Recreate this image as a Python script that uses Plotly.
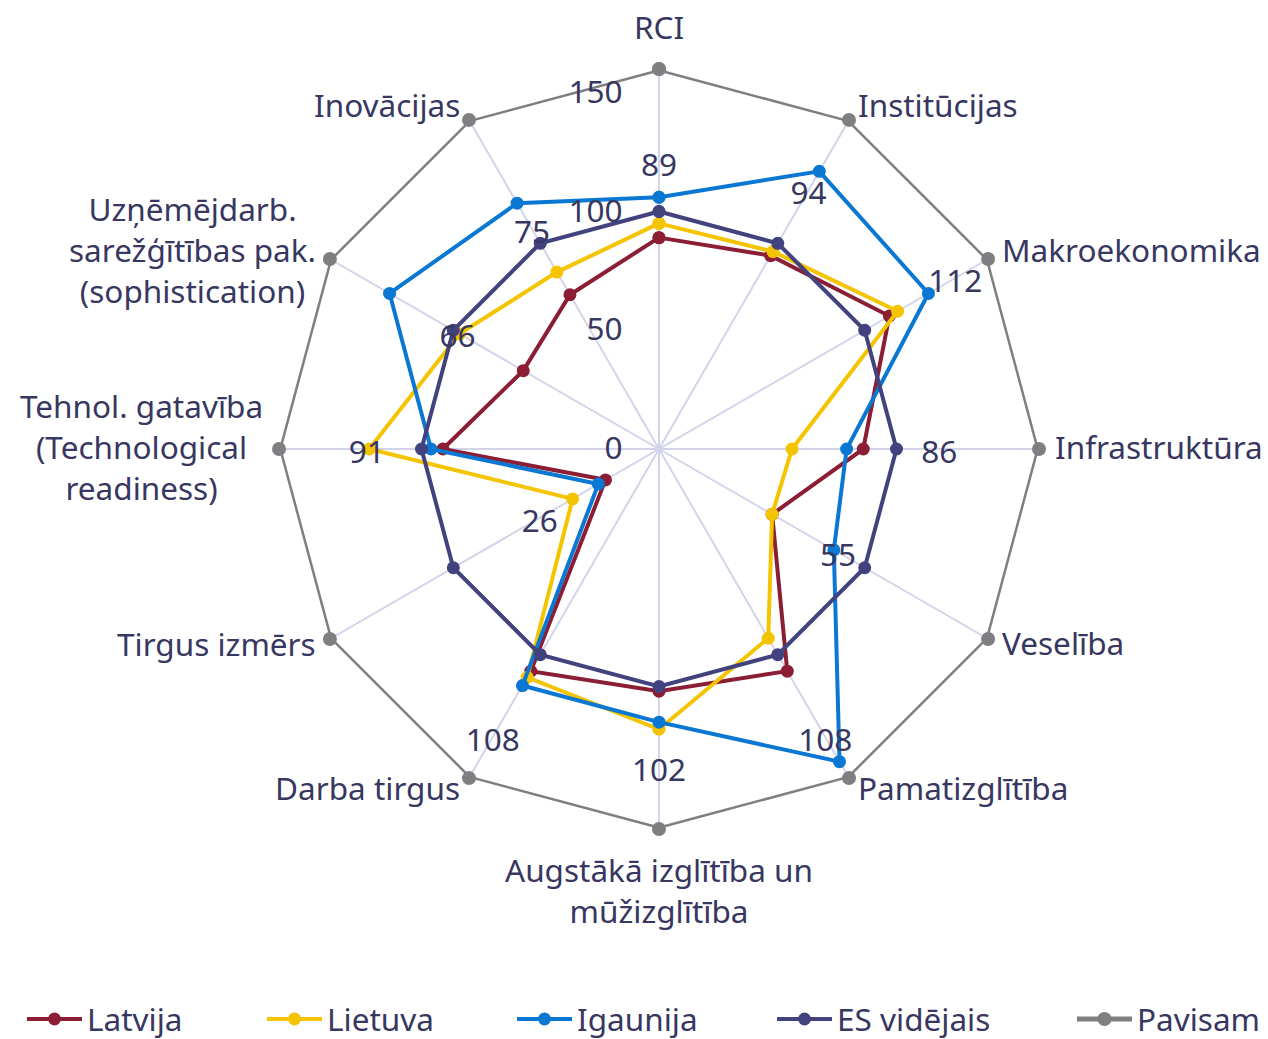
import math
import plotly.graph_objects as go

categories = ["RCI", "Institūcijas", "Makroekonomika", "Infrastruktūra", "Veselība",
              "Pamatizglītība", "Augstākā izglītība un<br>mūžizglītība", "Darba tirgus",
              "Tirgus izmērs", "Tehnol. gatavība<br>(Technological<br>readiness)",
              "Uzņēmējdarb.<br>sarežģītības pak.<br>(sophistication)", "Inovācijas"]

latvija = [89, 94, 112, 86, 55, 108, 102, 108, 26, 91, 66, 75]
lietuva = [95, 96, 116, 56, 55, 92, 118, 111, 42, 122, 97, 86]
igaunija = [106, 135, 131, 79, 85, 152, 115, 115, 29.5, 96, 131, 119.5]
es_videjais = [100] * 12
pavisam = [160] * 12

radial_ticks = [0, 50, 100, 150]

series = [
    ("Latvija", latvija, "#8B1E35", 4, 13),
    ("Lietuva", lietuva, "#F5C400", 4, 13),
    ("Igaunija", igaunija, "#0A78D2", 4, 13),
    ("ES vidējais", es_videjais, "#41427E", 4, 13),
    ("Pavisam", pavisam, "#7F7F82", 5, 14),
]

FONT = "Noto Sans"
FS = 31.5
TXT = "#37375F"

fig = go.Figure()
legend_names = ["legend", "legend2", "legend3", "legend4", "legend5"]
for (name, vals, color, lw, ms), lg in zip(series, legend_names):
    fig.add_trace(go.Scatterpolar(
        r=vals + vals[:1], theta=categories + categories[:1],
        mode="lines+markers", name=name, legend=lg,
        line=dict(color=color, width=lw),
        marker=dict(color=color, size=ms),
        hoverinfo="skip"))

# data labels (Latvija values), offset outward, drawn on an overlay polar
label_offset = 32
fig.add_trace(go.Scatterpolar(
    r=[v + label_offset for v in latvija], theta=categories,
    mode="text", text=[str(v) for v in latvija], subplot="polar2",
    textfont=dict(family=FONT, size=FS, color=TXT),
    showlegend=False, hoverinfo="skip"))

W, H = 1268, 1039
cx, cy, R = 659, 449, 380
label_dy = 6  # small downward nudge of the data-label overlay

# category labels placed just outside the outer polygon vertices
n = len(categories)
annotations = []
for i, cat in enumerate(categories):
    a = 2 * math.pi * i / n
    ux, uy = math.sin(a), -math.cos(a)
    yshift = 0
    if abs(ux) < 0.1:
        xanchor = "center"
        if uy < 0:
            yanchor, d = "bottom", 19
        else:
            yanchor, d = "top", 17
    else:
        xanchor = "left" if ux > 0 else "right"
        yanchor, d = "middle", 14
        yshift = 3
    px = cx + (R + d) * ux
    py = cy + (R + d) * uy
    annotations.append(dict(x=px / W, y=1 - py / H, xref="paper", yref="paper",
                            text=cat, showarrow=False, align="center",
                            xanchor=xanchor, yanchor=yanchor, yshift=yshift,
                            font=dict(family=FONT, size=FS, color=TXT)))

legend_x_px = [22, 262, 512, 772, 1072]
leg_common = dict(orientation="h", yanchor="bottom", xanchor="left",
                  font=dict(family=FONT, size=FS, color=TXT),
                  bgcolor="rgba(0,0,0,0)", itemwidth=55)
layout_legends = {}
for lg, xp in zip(legend_names, legend_x_px):
    layout_legends[lg] = dict(x=xp / W, y=-7 / H, **leg_common)

angular_common = dict(rotation=90, direction="clockwise", showline=False)
hidden_radial = dict(range=[0, 160], showgrid=False, showline=False,
                     showticklabels=False, ticks="")

fig.update_layout(
    width=W, height=H,
    margin=dict(l=0, r=0, t=0, b=0, autoexpand=False),
    paper_bgcolor="white",
    font=dict(family=FONT, size=FS, color=TXT),
    polar=dict(
        domain=dict(x=[(cx - R) / W, (cx + R) / W], y=[(H - cy - R) / H, (H - cy + R) / H]),
        bgcolor="white",
        gridshape="linear",
        angularaxis=dict(**angular_common,
                         showgrid=True, gridcolor="#D3D3EA", gridwidth=1.6,
                         showticklabels=False, ticks=""),
        radialaxis=dict(range=[0, 160], angle=90, side="counterclockwise",
                        tickmode="array", tickvals=radial_ticks, tickangle=90,
                        showgrid=False, showline=False,
                        ticks="outside", ticklen=25, tickcolor="rgba(0,0,0,0)",
                        tickfont=dict(family=FONT, size=FS, color=TXT)),
    ),
    polar2=dict(
        domain=dict(x=[(cx - R) / W, (cx + R) / W],
                    y=[(H - cy - R - label_dy) / H, (H - cy + R - label_dy) / H]),
        bgcolor="rgba(0,0,0,0)",
        gridshape="linear",
        angularaxis=dict(**angular_common, showgrid=False,
                         showticklabels=False, ticks=""),
        radialaxis=hidden_radial,
    ),
    annotations=annotations,
    showlegend=True,
    **layout_legends,
)

fig.write_html("out.html", config={"displayModeBar": False},
               post_script="document.body.style.margin='0';")
